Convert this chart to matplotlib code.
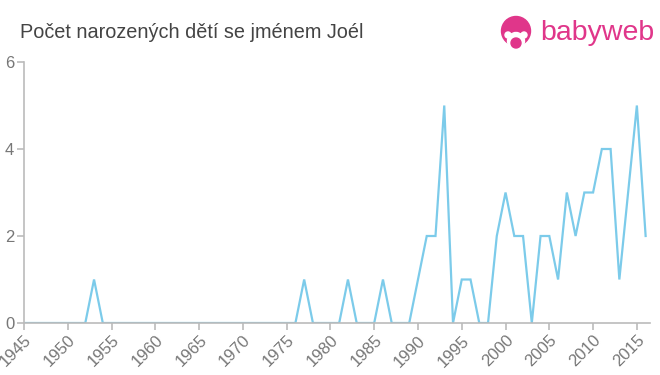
import matplotlib
matplotlib.use('Agg')
import matplotlib.pyplot as plt
from matplotlib.patches import Circle

plt.rcParams['font.family'] = ['Liberation Sans', 'DejaVu Sans']

years = list(range(1945, 2017))
counts = [0] * len(years)
nonzero = {
    1953: 1, 1977: 1, 1982: 1, 1986: 1,
    1990: 1, 1991: 2, 1992: 2, 1993: 5,
    1995: 1, 1996: 1, 1999: 2, 2000: 3, 2001: 2, 2002: 2,
    2004: 2, 2005: 2, 2006: 1, 2007: 3, 2008: 2, 2009: 3, 2010: 3,
    2011: 4, 2012: 4, 2013: 1, 2014: 3, 2015: 5, 2016: 2,
}
for y, c in nonzero.items():
    counts[years.index(y)] = c

xticks = list(range(1945, 2016, 5))
yticks = [0, 2, 4, 6]

fig = plt.figure(figsize=(6.6, 3.75), dpi=100)
ax = fig.add_axes([24 / 660, 52 / 375, 626 / 660, 261 / 375])

ax.plot(years, counts, color='#7ccbea', linewidth=1.6, solid_joinstyle='miter')

ax.set_xlim(1945, 2016.5)
ax.set_ylim(0, 6)
ax.set_xticks(xticks)
ax.set_xticklabels([str(t) for t in xticks], rotation=45, ha='right',
                   rotation_mode='anchor')
ax.set_yticks(yticks)

for s in ['top', 'right']:
    ax.spines[s].set_visible(False)
for s in ['left', 'bottom']:
    ax.spines[s].set_color('#bbbbbb')
    ax.spines[s].set_linewidth(1.2)
ax.tick_params(colors='#bbbbbb', labelcolor='#777777', labelsize=12,
               length=5, width=1.2)
ax.tick_params(axis='y', pad=2)
ax.tick_params(axis='x', pad=2)

fig.text(20 / 660, 1 - 32 / 375, 'Počet narozených dětí se jménem Joél',
         fontsize=14.3, color='#444444', va='center', ha='left')

# babyweb logo (pixel positions -> inches)
pink = '#e0368a'
def px(x, y):
    return (x / 100, (375 - y) / 100)

tr = fig.dpi_scale_trans
fig.patches.append(Circle(px(516, 31), 0.145, transform=tr, color=pink))
fig.patches.append(Circle(px(516, 41), 0.085, transform=tr, color='white'))
fig.patches.append(Circle(px(508, 35), 0.03, transform=tr, color='white'))
fig.patches.append(Circle(px(524, 35), 0.03, transform=tr, color='white'))
fig.patches.append(Circle(px(516, 43), 0.05, transform=tr, color=pink))
fig.text(540 / 660, 1 - 33 / 375, 'babyweb', fontsize=20.5, color=pink,
         va='center', ha='left')

fig.savefig('out.png', dpi=100)
